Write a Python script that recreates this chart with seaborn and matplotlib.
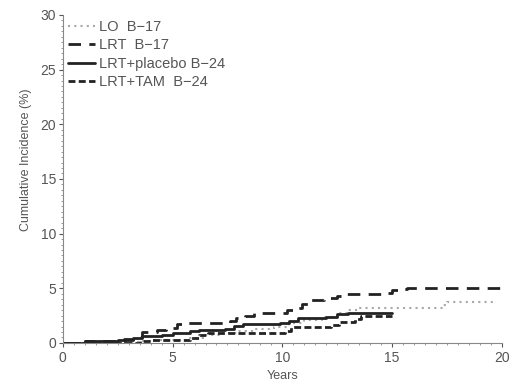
import numpy as np
import pandas as pd
import matplotlib
matplotlib.use("Agg")
import matplotlib.pyplot as plt
from matplotlib.ticker import MultipleLocator
import seaborn as sns

sns.set_style("ticks")
plt.rcParams['font.family'] = ['Liberation Sans', 'DejaVu Sans']

# Data (step curves: times in years, cumulative incidence %)
lo_t = [0, 1.0, 3.5, 4.2, 5.8, 6.5, 7.2, 8.0, 8.7, 9.6, 10.3, 11.0, 11.8, 12.5, 13.0, 13.5, 17.3, 17.5, 19.8]
lo_v = [0, 0.05, 0.2, 0.3, 0.45, 0.7, 0.9, 1.1, 1.3, 1.5, 1.8, 2.1, 2.4, 2.7, 3.0, 3.2, 3.5, 3.7, 3.7]

lrt_t = [0, 1.0, 2.8, 3.3, 3.6, 4.3, 4.7, 5.2, 5.6, 7.6, 7.9, 8.3, 8.7, 10.2, 10.5, 10.9, 11.2,
         11.9, 12.5, 12.7, 14.7, 15.0, 15.4, 15.7, 20.0]
lrt_v = [0, 0.2, 0.35, 0.5, 1.0, 1.2, 1.4, 1.7, 1.8, 2.0, 2.3, 2.5, 2.75, 3.0, 3.2, 3.6, 3.9,
         4.1, 4.3, 4.5, 4.6, 4.8, 4.9, 5.0, 5.0]

plc_t = [0, 1.0, 2.5, 3.2, 3.6, 4.5, 5.0, 5.8, 6.2, 7.4, 7.8, 8.2, 9.9, 10.3, 10.7, 12.0, 12.5, 13.0, 15.0]
plc_v = [0, 0.15, 0.3, 0.45, 0.6, 0.75, 0.9, 1.05, 1.2, 1.3, 1.55, 1.75, 1.85, 2.05, 2.25, 2.4, 2.6, 2.7, 2.7]

tam_t = [0, 3.5, 4.0, 5.8, 6.2, 6.6, 10.1, 10.4, 12.2, 12.6, 13.3, 13.6, 15.0]
tam_v = [0, 0.2, 0.3, 0.45, 0.7, 0.9, 1.05, 1.45, 1.6, 1.95, 2.2, 2.5, 2.5]

labels = ["LO  B\u221217", "LRT  B\u221217", "LRT+placebo B\u221224", "LRT+TAM  B\u221224"]
x_ticks = [0, 5, 10, 15, 20]
y_ticks = [0, 5, 10, 15, 20, 25, 30]

fig = plt.figure(figsize=(5.11, 3.84), dpi=100)
ax = fig.add_axes([0.123, 0.107, 0.859, 0.854])

series = [
    (lo_t, lo_v, dict(color="#a8a8a8", lw=1.5, dashes=(1, 2))),
    (lrt_t, lrt_v, dict(color="#222222", lw=2.0, dashes=(4.5, 3))),
    (plc_t, plc_v, dict(color="#222222", lw=2.0)),
    (tam_t, tam_v, dict(color="#222222", lw=2.0, dashes=(2.5, 1.2))),
]
for (t, v, kw), lab in zip(series, labels):
    df = pd.DataFrame({"Years": t, "Inc": v})
    sns.lineplot(data=df, x="Years", y="Inc", ax=ax, drawstyle="steps-post",
                 label=lab, sort=False, **kw)

ax.set_xlim(0, 20)
ax.set_ylim(0, 30)
ax.set_xticks(x_ticks)
ax.set_yticks(y_ticks)
ax.xaxis.set_minor_locator(MultipleLocator(0.5))
ax.yaxis.set_minor_locator(MultipleLocator(0.5))
ax.tick_params(axis="both", which="major", labelsize=10, colors="#555555", length=3, pad=2)
ax.tick_params(axis="x", which="major", pad=3)
ax.tick_params(axis="both", which="minor", length=1.5, color="#888888")
ax.set_xlabel("Years", fontsize=9, color="#555555")
ax.set_ylabel("Cumulative Incidence (%)", fontsize=9, color="#555555")
ax.xaxis.set_label_coords(0.5, -0.083)
ax.yaxis.set_label_coords(-0.07, 0.558)
for s in ["top", "right"]:
    ax.spines[s].set_visible(False)
for s in ["left", "bottom"]:
    ax.spines[s].set_color("#888888")

leg = ax.legend(loc="upper left", frameon=False, fontsize=10.5, handlelength=1.85,
                handletextpad=0.3, labelspacing=0.3, borderaxespad=0.0, borderpad=0.0,
                bbox_to_anchor=(0.011, 0.985))
for txt in leg.get_texts():
    txt.set_color("#555555")

fig.savefig("out.png", dpi=100)
